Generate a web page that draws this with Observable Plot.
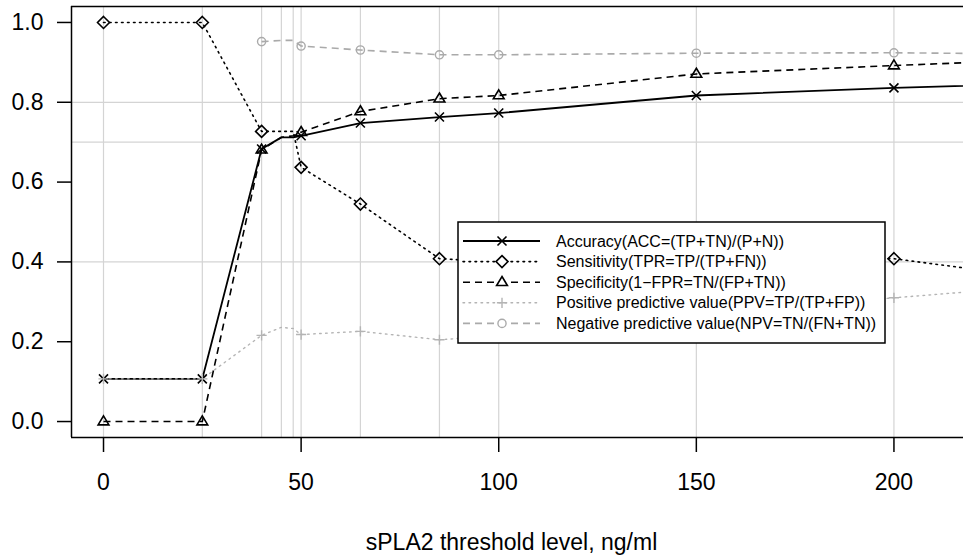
<!DOCTYPE html>
<html><head><meta charset="utf-8">
<script src="https://cdn.jsdelivr.net/npm/d3@7"></script>
<script src="https://cdn.jsdelivr.net/npm/@observablehq/plot@0.6"></script>
<style>
body{margin:0;background:#fff;}
#chart{width:963px;height:558px;}
</style></head><body><div id="chart"></div>
<script>
// ---- data ----
const thresholds  = [0, 25, 40, 45, 48, 50, 65, 85, 100, 150, 200, 250];
const accuracy    = [0.107, 0.107, 0.683, 0.712, 0.712, 0.716, 0.748, 0.763, 0.773, 0.817, 0.836, 0.850];
const sensitivity = [1.000, 1.000, 0.727, 0.727, 0.727, 0.637, 0.545, 0.408, 0.400, 0.410, 0.408, 0.343];
const specificity = [0.000, 0.000, 0.681, 0.712, 0.716, 0.725, 0.777, 0.809, 0.817, 0.871, 0.892, 0.912];
const ppv         = [0.107, 0.107, 0.216, 0.236, 0.233, 0.218, 0.226, 0.205, 0.215, 0.270, 0.310, 0.350];
const npv         = [null, null, 0.952, 0.955, 0.955, 0.941, 0.931, 0.919, 0.919, 0.923, 0.924, 0.920];
const markerThresholds = [0, 25, 40, 50, 65, 85, 100, 150, 200, 250];
const seriesNames = [
  "Accuracy(ACC=(TP+TN)/(P+N))",
  "Sensitivity(TPR=TP/(TP+FN))",
  "Specificity(1\u2212FPR=TN/(FP+TN))",
  "Positive predictive value(PPV=TP/(TP+FP))",
  "Negative predictive value(NPV=TN/(FN+TN))"
];
const xTicks = [0, 50, 100, 150, 200];
const yTicks = [0, 0.2, 0.4, 0.6, 0.8, 1.0];
const yGrid  = [0.4, 0.7, 0.8];
const xLabel = "sPLA2 threshold level, ng/ml";

// ---- custom R-like symbols ----
const rad = s => Math.sqrt(s / Math.PI);
const symCross = {draw(c, s){const r = rad(s)*0.75; c.moveTo(-r,-r); c.lineTo(r,r); c.moveTo(-r,r); c.lineTo(r,-r);}};
const symDiamond = {draw(c, s){const r = rad(s); c.moveTo(0,-r); c.lineTo(r,0); c.lineTo(0,r); c.lineTo(-r,0); c.closePath();}};
const symTriangle = {draw(c, s){const r = rad(s); c.moveTo(0,-0.95*r); c.lineTo(0.9*r,0.55*r); c.lineTo(-0.9*r,0.55*r); c.closePath();}};
const symPlus = {draw(c, s){const r = rad(s)*0.85; c.moveTo(-r,0); c.lineTo(r,0); c.moveTo(0,-r); c.lineTo(0,r);}};
const symCircle = {draw(c, s){const r = rad(s)*0.68; c.moveTo(r,0); c.arc(0,0,r,0,2*Math.PI); c.closePath();}};

const seriesValues = [accuracy, sensitivity, specificity, ppv, npv];
const seriesStyle = [
  {stroke:"#000", dash:null,    width:1.8, sym:symCross,    mw:1.6},
  {stroke:"#000", dash:"1.6,4.4", width:1.6, sym:symDiamond,  mw:1.6},
  {stroke:"#000", dash:"7,5",   width:1.6, sym:symTriangle, mw:1.6},
  {stroke:"#b4b4b4", dash:"1.6,4.4", width:1.4, sym:symPlus,  mw:1.4},
  {stroke:"#aaaaaa", dash:"7,5", width:1.6, sym:symCircle,   mw:1.4}
];

const xDomain = [-8.1, 217.6];
const yDomain = [-0.04, 1.04];
const font = "'Liberation Sans', Arial, Helvetica, sans-serif";

const lineMarks = [];
const dotMarks = [];
seriesValues.forEach((vals, i) => {
  const st = seriesStyle[i];
  const rows = thresholds.map((t, j) => ({t, v: vals[j]})).filter(d => d.v != null);
  lineMarks.push(Plot.line(rows, {x:"t", y:"v", stroke:st.stroke, strokeWidth:st.width,
    strokeDasharray: st.dash, strokeLinecap: st.dash && st.dash.startsWith("1.6") ? "round" : "butt", clip:true}));
  dotMarks.push(Plot.dot(rows.filter(d => markerThresholds.includes(d.t)), {x:"t", y:"v",
    symbol: st.sym, r: 6, stroke: st.stroke, strokeWidth: st.mw, fill:"none", clip:true}));
});

const chart = Plot.plot({
  width: 963, height: 558,
  marginLeft: 71, marginRight: 0, marginTop: 6, marginBottom: 121,
  x: {domain: xDomain},
  y: {domain: yDomain},
  style: {fontFamily: font, fontSize: "23px", background: "white", color: "black"},
  marks: [
    Plot.ruleX(thresholds, {stroke:"#d4d4d4", strokeWidth:1.2, clip:true}),
    Plot.ruleY(yGrid, {stroke:"#d4d4d4", strokeWidth:1.2}),
    ...lineMarks,
    ...dotMarks,
    Plot.axisY({ticks: yTicks, tickSize: 14, tickPadding: 14, tickFormat: d3.format(".1f"), label: null, fontSize: 23, strokeWidth: 1.5}),
    Plot.axisX({ticks: xTicks, tickSize: 15, tickPadding: 21, label: null, fontSize: 23, strokeWidth: 1.5}),
    Plot.ruleY(yDomain, {stroke:"black", strokeWidth:1.5}),
    Plot.ruleX([xDomain[0]], {stroke:"black", strokeWidth:1.5}),
    Plot.text([xLabel], {text: d => d, frameAnchor: "bottom", lineAnchor: "top", dy: 96, dx: -6, fontSize: 23})
  ]
});
document.getElementById("chart").appendChild(chart);

// ---- legend inside the plot ----
const svg = d3.select(chart.tagName.toLowerCase() === "svg" ? chart : chart.querySelector("svg"));
const lg = svg.append("g").attr("font-family", font).attr("font-size", 16).attr("text-anchor", "start");
lg.append("rect").attr("x", 458).attr("y", 222).attr("width", 427).attr("height", 121)
  .attr("fill", "white").attr("stroke", "black").attr("stroke-width", 1.5);
seriesNames.forEach((name, i) => {
  const st = seriesStyle[i];
  const y = 241 + i * 20.6;
  lg.append("line").attr("x1", 463).attr("x2", 540).attr("y1", y).attr("y2", y)
    .attr("stroke", st.stroke).attr("stroke-width", st.width)
    .attr("stroke-dasharray", st.dash).attr("stroke-linecap", st.dash && st.dash.startsWith("1.6") ? "round" : "butt");
  lg.append("path").attr("transform", `translate(502,${y})`)
    .attr("d", d3.symbol(st.sym, Math.PI * 36)())
    .attr("fill", "white").attr("stroke", st.stroke).attr("stroke-width", st.mw);
  lg.append("text").attr("x", 556).attr("y", y).attr("dy", "0.35em")
    .attr("text-anchor", "start").attr("fill", "black").text(name);
});
</script>
</body></html>
